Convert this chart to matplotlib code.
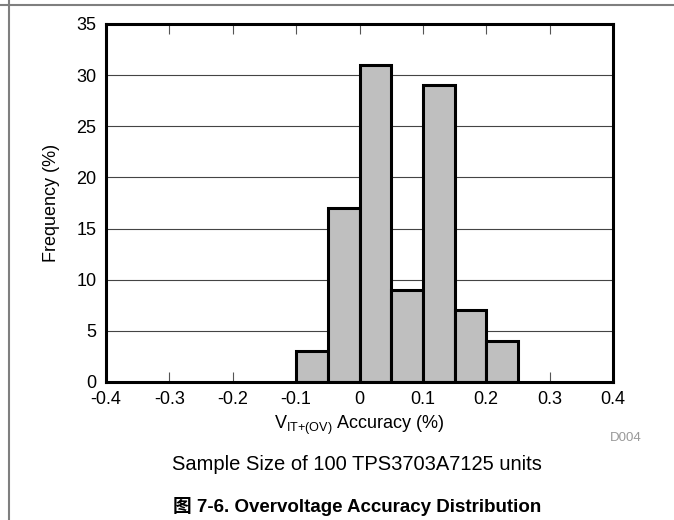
import numpy as np
import matplotlib
matplotlib.use('Agg')
import matplotlib.pyplot as plt
from matplotlib.lines import Line2D

plt.rcParams['font.family'] = ['Liberation Sans', 'Noto Sans CJK SC', 'DejaVu Sans']
plt.rcParams['mathtext.fontset'] = 'custom'
plt.rcParams['mathtext.rm'] = 'Liberation Sans'

# histogram data
bin_edges = [-0.1, -0.05, 0.0, 0.05, 0.1, 0.15, 0.2, 0.25]
frequency = [3, 17, 31, 9, 29, 7, 4]
x_ticks = [-0.4, -0.3, -0.2, -0.1, 0, 0.1, 0.2, 0.3, 0.4]
x_tick_labels = ['-0.4', '-0.3', '-0.2', '-0.1', '0', '0.1', '0.2', '0.3', '0.4']
y_ticks = [0, 5, 10, 15, 20, 25, 30, 35]

W, H = 674, 520
fig = plt.figure(figsize=(W / 100, H / 100), dpi=100)

# page border lines (gray)
fig.add_artist(Line2D([0, 1], [1 - 5 / H, 1 - 5 / H], color='#7f7f7f', lw=1.5,
                      transform=fig.transFigure))
fig.add_artist(Line2D([9 / W, 9 / W], [0, 1], color='#7f7f7f', lw=1.5,
                      transform=fig.transFigure))

left, right, top, bottom = 106, 613, 24, 382
ax = fig.add_axes([left / W, 1 - bottom / H, (right - left) / W, (bottom - top) / H])

lefts = np.array(bin_edges[:-1])
widths = np.diff(bin_edges)
ax.bar(lefts, frequency, width=widths, align='edge', color='#bfbfbf',
       edgecolor='black', linewidth=2.2, zorder=3)

ax.set_xlim(-0.4, 0.4)
ax.set_ylim(0, 35)
ax.set_xticks(x_ticks)
ax.set_xticklabels(x_tick_labels)
ax.set_yticks(y_ticks)
ax.yaxis.grid(True, color='#444444', lw=0.8, zorder=0)
ax.set_axisbelow(True)
for s in ax.spines.values():
    s.set_linewidth(2.2)
    s.set_zorder(4)

ax.tick_params(axis='x', direction='in', top=True, bottom=True, length=7,
               width=0.8, labelsize=13, pad=6.5, color='#555555')
ax.tick_params(axis='y', length=0, labelsize=13, pad=7)

ax.set_xlabel(r'V$_{\mathregular{IT{+}(OV)}}$ Accuracy (%)', fontsize=13, labelpad=4)
ax.set_ylabel('Frequency (%)', fontsize=13)
ax.yaxis.set_label_coords(-0.09, 0.5)

fig.text(626 / W, 1 - 438 / H, 'D004', color='#999999', fontsize=9.5,
         ha='center', va='center')
fig.text(357 / W, 1 - 465 / H, 'Sample Size of 100 TPS3703A7125 units',
         fontsize=14.5, ha='center', va='center')
fig.text(357 / W, 1 - 506 / H, '图 7-6. Overvoltage Accuracy Distribution',
         fontsize=13.5, fontweight='bold', ha='center', va='center')

fig.savefig('out.png', dpi=100)
